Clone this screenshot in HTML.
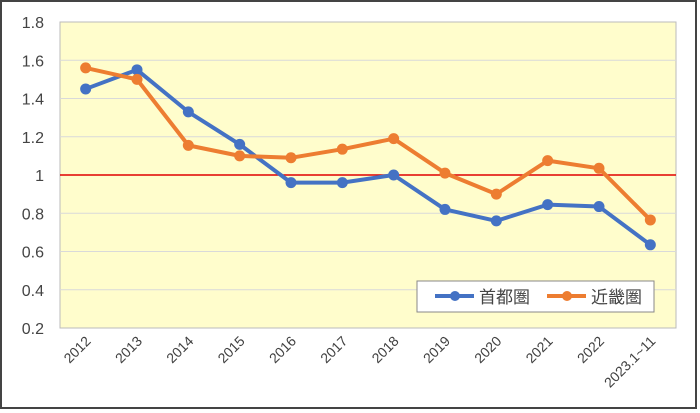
<!DOCTYPE html>
<html><head><meta charset="utf-8"><style>
body{margin:0;background:#fff;}
svg{display:block;font-family:"Liberation Sans","Noto Sans CJK JP",sans-serif;}
</style></head><body>
<svg width="700" height="413">
<rect x="1" y="1" width="695" height="407" fill="#fff" stroke="#444" stroke-width="2"/>
<rect x="60" y="22" width="616" height="306" fill="#fffdcc" stroke="#bbb"/>
<g id="grid"></g><g id="ylabels"></g><g id="xlabels"></g><g id="series"></g>
<g>
<rect x="417" y="281" width="237" height="31" fill="#fff" stroke="#888"/>
<line x1="435" y1="296" x2="474" y2="296" stroke="#4472c4" stroke-width="4"/><circle cx="455" cy="296" r="5" fill="#4472c4"/>
<text x="479" y="303" font-size="17" fill="#444">首都圏</text>
<line x1="547" y1="296" x2="586" y2="296" stroke="#ed7d31" stroke-width="4"/><circle cx="567" cy="296" r="5" fill="#ed7d31"/>
<text x="591" y="303" font-size="17" fill="#444">近畿圏</text>
</g>
</svg>
<script>
const categories=["2012","2013","2014","2015","2016","2017","2018","2019","2020","2021","2022","2023.1~11"];
const shutoken=[1.45,1.55,1.33,1.16,0.96,0.96,1.00,0.82,0.76,0.845,0.835,0.635];
const kinki=[1.56,1.50,1.155,1.10,1.09,1.135,1.19,1.01,0.90,1.075,1.035,0.765];
const yTicks=[0.2,0.4,0.6,0.8,1,1.2,1.4,1.6,1.8];
const NS="http://www.w3.org/2000/svg";
const X0=60,X1=676,Y0=328,Y1=22,ymin=0.2,ymax=1.8;
const bw=(X1-X0)/categories.length;
function xs(i){return X0+bw*(i+0.5);}
function ys(v){return Y0-(v-ymin)/(ymax-ymin)*(Y0-Y1);}
function mk(t,a,p){const e=document.createElementNS(NS,t);for(const k in a)e.setAttribute(k,a[k]);p.appendChild(e);return e;}
const grid=document.getElementById('grid'),yl=document.getElementById('ylabels'),xl=document.getElementById('xlabels'),sg=document.getElementById('series');
yTicks.forEach(v=>{
 if(v!==ymin&&v!==ymax&&v!==1){const l=mk('line',{x1:X0,x2:X1,y1:ys(v),y2:ys(v),stroke:'#d9d9d9'},grid);
 
 }
 const t=mk('text',{x:44,y:ys(v)+6,'font-size':16,fill:'#444','text-anchor':'end'},yl);
 
 
 t.textContent=String(v);
});
const ref=mk('line',{x1:X0,x2:X1,y1:ys(1),y2:ys(1),stroke:'#e00000','stroke-width':1.5},grid);


categories.forEach((c,i)=>{
 const x=xs(i)+6,y=342;
 const t=mk('text',{x:x,y:y,'font-size':14,fill:'#404040','text-anchor':'end',transform:`rotate(-45 ${x} ${y})`},xl);
 
 
 t.textContent=c;
});
function draw(vals,color,name){
 const p=mk('polyline',{points:vals.map((v,i)=>xs(i)+','+ys(v)).join(' '),fill:'none',stroke:color,'stroke-width':4,'stroke-linejoin':'round'},sg);
 
 
 vals.forEach((v,i)=>{const c=mk('circle',{cx:xs(i),cy:ys(v),r:5.5,fill:color},sg);
 
 });
}
draw(shutoken,'#4472c4','shutoken');
draw(kinki,'#ed7d31','kinki');
</script>
</body></html>
